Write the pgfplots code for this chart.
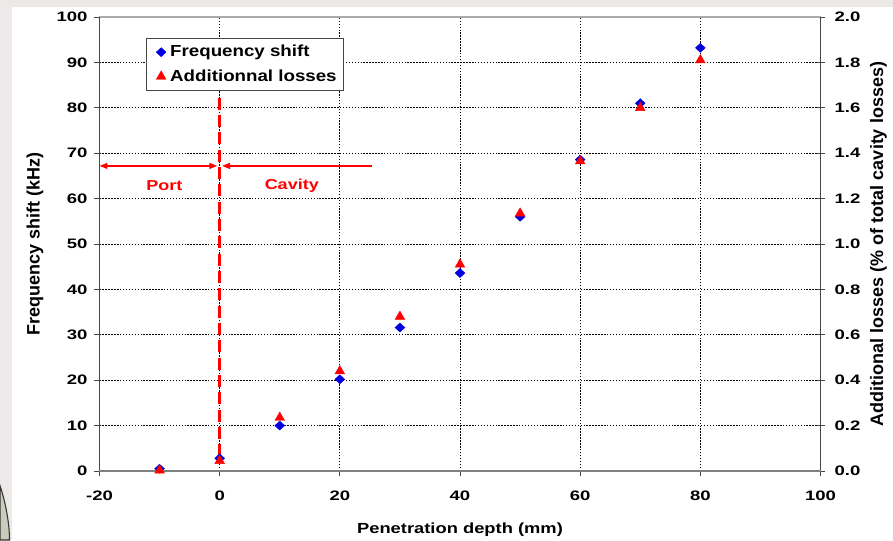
\documentclass[border=0pt]{standalone}
\usepackage{fontspec}
\setmainfont{Liberation Sans}
\newfontfamily\hfont{Liberation Sans}[FakeStretch=1.25]
\newfontfamily\tfont{Liberation Sans}[FakeStretch=1.35]
\newfontfamily\lfont{Liberation Sans}[FakeStretch=1.17]
\newfontfamily\vfont{Liberation Sans}
\usepackage{pgfplots}
\usepackage{pgfplotstable}
\pgfplotsset{compat=1.18}
\usetikzlibrary{arrows.meta}

\definecolor{axisgray}{RGB}{128,128,128}
\definecolor{darkaxis}{RGB}{70,70,70}
\definecolor{topgray}{RGB}{170,170,170}
\definecolor{framegray}{RGB}{238,233,233}
\definecolor{serblue}{RGB}{0,0,225}
\definecolor{serred}{RGB}{255,0,0}

\newcommand\tickfont{\tfont\bfseries\fontsize{10.3pt}{12pt}\selectfont}
\newcommand\legfont{\lfont\bfseries\fontsize{12pt}{14pt}\selectfont}
\newcommand\xlabfont{\hfont\bfseries\fontsize{11pt}{13pt}\selectfont}
\newcommand\ylabfont{\vfont\bfseries\fontsize{13.5pt}{15pt}\selectfont}

% frequency shift (kHz) against penetration depth (mm)
\pgfplotstableread{
depth shift
-10 0.5
0   2.8
10  10.0
20  20.2
30  31.6
40  43.6
50  56.0
60  68.6
70  81.0
80  93.2
}\shifttable

% additional losses (% of total cavity losses)
\pgfplotstableread{
depth losses
-10 0.003
0   0.045
10  0.235
20  0.44
30  0.68
40  0.91
50  1.135
60  1.365
70  1.60
80  1.81
}\losstable

\tikzset{
  diamondmark/.style={mark=diamond*, mark size=3.4pt,
    mark options={xscale=1.45, fill=serblue, draw=serblue, line width=0.3pt}},
  trianglemark/.style={mark=triangle*, mark size=4.2pt,
    mark options={fill=serred, draw=serred, line width=0.3pt}},
}

\pgfplotsset{
  common/.style={
    scale only axis, width=540.75pt, height=340.5pt,
    xmin=-20, xmax=100,
    /pgf/number format/assume math mode=true,
    tick label style={font=\tickfont, text=black},
    tick style={darkaxis, line width=0.7pt},
    clip=false,
  },
}

\begin{document}
\begin{tikzpicture}
% page background with the light frame strips
\fill[white] (-74.625pt,-51.75pt) rectangle (595.125pt,353.25pt);
\fill[framegray] (-74.625pt,-51.75pt) rectangle (-64.1pt,353.25pt);
\fill[framegray] (-74.625pt,348pt) rectangle (595.125pt,353.25pt);
\fill[white] (-65.5pt,-51.75pt) rectangle (-64.1pt,348pt);
\filldraw[fill={rgb,255:red,200;green,204;blue,186}, draw=black!80, line width=0.8pt]
  (-74.625pt,-11pt) .. controls (-70pt,-25pt) and (-67.5pt,-40pt) .. (-67.5pt,-51.75pt)
  -- (-74.625pt,-51.75pt) -- cycle;

\begin{axis}[
  common,
  ymin=0, ymax=100,
  xtick={-20,0,20,40,60,80,100},
  ytick={0,10,20,30,40,50,60,70,80,90,100},
  xtick pos=left, ytick pos=left,
  tick align=outside,
  major tick length=4pt,
  axis line style={draw=none},
  grid=major,
  major grid style={black, line width=0.55pt, dash pattern=on 1.1pt off 1.1pt},
  xticklabel shift=7.5pt,
  yticklabel shift=1.5pt,
  xlabel={Penetration depth (mm)},
  ylabel={Frequency shift (kHz)},
  every axis x label/.style={at={([yshift=-44pt]axis description cs:0.5,0)}, anchor=center, font=\xlabfont},
  every axis y label/.style={at={([xshift=-48.4pt]axis description cs:0,0.5)}, anchor=center, rotate=90, font=\ylabfont},
  legend style={at={(0.065,0.953)}, anchor=north west, draw=darkaxis, line width=0.6pt,
    fill=white, font=\legfont, inner sep=2.5pt, row sep=3pt,
    nodes={inner sep=2.5pt}},
  legend cell align=left,
]
% port / cavity boundary
\draw[serred, line width=2.2pt, dash pattern=on 9pt off 4pt] (axis cs:0,82.2) -- (axis cs:0,3.5);
\draw[serred, line width=1.1pt, {Triangle[length=6pt,width=4.5pt]}-{Triangle[length=6pt,width=4.5pt]}]
  (axis cs:-20,67.2) -- (axis cs:-0.4,67.2);
\draw[serred, line width=1.1pt, {Triangle[length=6pt,width=4.5pt]}-]
  (axis cs:0.4,67.2) -- (axis cs:25.3,67.2);
\node[serred, font=\hfont\bfseries\fontsize{10.8pt}{12pt}\selectfont] at (axis cs:-9.2,62.9) {Port};
\node[serred, font=\hfont\bfseries\fontsize{10.8pt}{12pt}\selectfont] at (axis cs:12.0,62.9) {Cavity};

\addplot[only marks, color=serblue, diamondmark, forget plot]
  table[x=depth, y=shift] {\shifttable};

% legend keys: a single mark followed by the label
\addlegendimage{legend image code/.code={%
  \path (0pt,0pt) (12pt,0pt);
  \draw[draw=none, diamondmark] plot coordinates {(8pt,0pt)};}}
\addlegendentry{Frequency shift}
\addlegendimage{legend image code/.code={%
  \path (0pt,0pt) (12pt,0pt);
  \draw[draw=none, trianglemark] plot coordinates {(8pt,0pt)};}}
\addlegendentry{Additionnal losses}
\end{axis}

\begin{axis}[
  common,
  ymin=0, ymax=2,
  axis x line=none,
  axis y line*=right,
  y axis line style={draw=none},
  ytick={0,0.2,0.4,0.6,0.8,1.0,1.2,1.4,1.6,1.8,2.0},
  yticklabel style={/pgf/number format/.cd, fixed, fixed zerofill, precision=1},
  tick align=center,
  major tick length=6pt,
  yticklabel shift=4pt,
  ylabel={Additional losses (\% of total cavity losses)},
  every axis y label/.style={at={([xshift=43.5pt]axis description cs:1,0.5)}, anchor=center, rotate=90, font=\ylabfont},
]
\addplot[only marks, color=serred, trianglemark]
  table[x=depth, y=losses] {\losstable};
% frame lines of the plot area
\draw[topgray, line width=1.3pt] (rel axis cs:0,1) -- (rel axis cs:1,1);
\draw[darkaxis, line width=0.8pt] (rel axis cs:0,0) -- (rel axis cs:0,1);
\draw[darkaxis, line width=0.8pt] (rel axis cs:1,0) -- (rel axis cs:1,1);
\draw[axisgray, line width=1.6pt] (rel axis cs:0,0) -- (rel axis cs:1,0);
\end{axis}

\pgfresetboundingbox
\path[use as bounding box] (-74.625pt,-51.75pt) rectangle (595.125pt,353.25pt);
\end{tikzpicture}
\end{document}
